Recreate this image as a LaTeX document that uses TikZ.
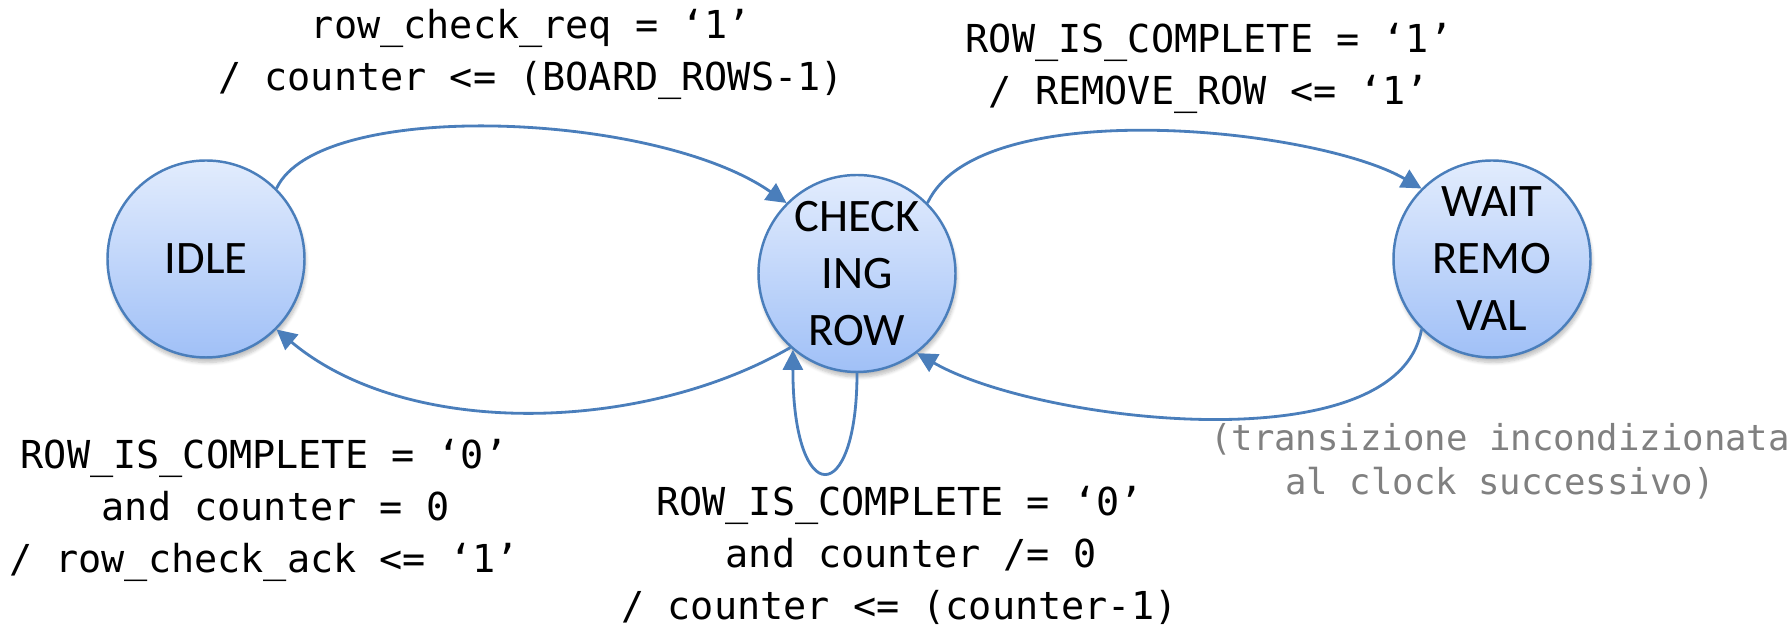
\documentclass[tikz,border=0pt]{standalone}
\usepackage{fontspec}
\setmainfont{Carlito}
\newfontfamily\codefont{DejaVu Sans Mono}
\usetikzlibrary{arrows.meta,shadows.blur}
\definecolor{stateline}{RGB}{74,126,187}
\definecolor{statetop}{RGB}{226,236,253}
\definecolor{statebot}{RGB}{160,192,247}
\definecolor{notegray}{RGB}{128,128,128}
\begin{document}
\begin{tikzpicture}[>={Triangle[length=0.4cm,width=0.4cm]},
    state/.style={circle,draw=stateline,line width=1.4pt,minimum size=3.94cm,inner sep=0pt,
      top color=statetop,bottom color=statebot,align=center,
      font=\fontsize{26.5}{32.4}\selectfont,
      blur shadow={shadow xshift=0.03cm,shadow yshift=-0.1cm,shadow blur steps=6,shadow opacity=25}},
    trans/.style={draw=stateline,line width=1.6pt,->},
    lbl/.style={align=center,inner sep=0pt,font=\codefont\fontsize{21.9}{29.6}\selectfont}]
  \useasboundingbox (0,0) rectangle (35.78,12.54);
  \node[state] (idle) at (4.12,7.36) {IDLE};
  \node[state] (check) at (17.14,7.07) {CHECK\\ING\\ROW};
  \node[state] (wait) at (29.84,7.36) {WAIT\\REMO\\VAL};

  \draw[trans] (idle.45) to[out=65,in=145,out looseness=0.5,in looseness=0.8] (check.135);
  \draw[trans] (check.45) to[out=65,in=150,looseness=0.63] (wait.135);
  \draw[trans] (wait.225) to[out=-100,in=-30,looseness=0.7] (check.-53);
  \draw[trans] (check.-132) to[out=210,in=-40,looseness=0.85] (idle.-45);
  \draw[trans] (check.-90) .. controls +(0,-2.7) and +(0,-3.2) .. (check.-130);

  \node[lbl] (reqlbl) at (10.62,11.46) {row\_check\_req = ‘1’\\/ counter <= (BOARD\_ROWS-1)};
  \node[lbl] (fulllbl) at (24.18,11.17) {ROW\_IS\_COMPLETE = ‘1’\\/ REMOVE\_ROW <= ‘1’};
  \node[lbl] (acklbl) at (5.28,2.34) {ROW\_IS\_COMPLETE = ‘0’\\\hphantom{x}and counter = 0\\/ row\_check\_ack <= ‘1’};
  \node[lbl] (declbl) at (17.99,1.44) {ROW\_IS\_COMPLETE = ‘0’\\\hphantom{x}and counter /= 0\\/ counter <= (counter-1)};
  \node[lbl,text=notegray,font=\codefont\fontsize{20.3}{25}\selectfont] (notelbl) at (30.0,3.32)
    {(transizione incondizionata\\al clock successivo)};
\end{tikzpicture}
\end{document}
